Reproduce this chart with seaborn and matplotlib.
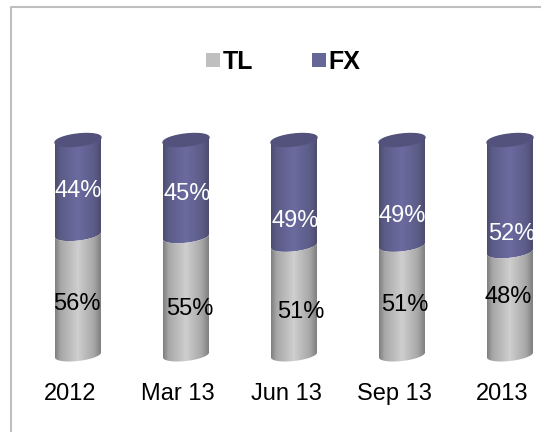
import matplotlib

matplotlib.use("Agg")
import matplotlib.pyplot as plt
import matplotlib.transforms as mtrans
import numpy as np
import pandas as pd
import seaborn as sns
from matplotlib.lines import Line2D
from matplotlib.patches import PathPatch
from matplotlib.path import Path

periods = ["2012", "Mar 13", "Jun 13", "Sep 13", "2013"]
tl = [56, 55, 51, 51, 48]
fx = [44, 45, 49, 49, 52]

# hand placed labels in the original, pixel offset from the middle of each segment
tl_shift = [(-1, -9), (4, -13), (7, -12), (3, -5), (-2, 6)]
fx_shift = [(0, -4), (1, -6), (1, -28), (0, -23), (2, -38)]

W, H = 541, 432
X0, Y0, Y100 = 24, 355, 140  # px position of category -0.5, value 0, value 100
STEP = 108
CAP = 6 / 2.15  # half height of the elliptical ends, in data units
TILT = 2.5 / 2.15

sns.set_theme(style="white")
plt.rcParams["font.family"] = ["Liberation Sans", "DejaVu Sans"]

fig = plt.figure(figsize=(W / 100, H / 100), dpi=100)
ax = fig.add_axes([X0 / W, (H - Y0) / H, (W - X0) / W, (Y0 - Y100) / H])

df = pd.DataFrame({"period": periods, "TL": tl, "FX": fx})
sns.barplot(data=df, x="period", y="TL", color="#c4c4c4", width=46 / STEP, ax=ax, saturation=1)
sns.barplot(data=df, x="period", y="FX", bottom=df["TL"], color="#666699", width=46 / STEP, ax=ax, saturation=1)
ax.set_xlim(-0.5, -0.5 + (W - X0) / STEP)
ax.set_ylim(0, 100)
ax.set_xlabel("")
ax.set_ylabel("")
ax.set_yticks([])
ax.tick_params(axis="x", length=0, pad=20, labelsize=17, labelcolor="black")
sns.despine(ax=ax, left=True, bottom=True)
for lab in ax.get_xticklabels():
    lab.set_transform(lab.get_transform() + mtrans.Affine2D().translate(-8, 0))


def rim(x, w, y, start, stop):
    t = np.linspace(start, stop, 60)
    return x + w / 2 + w / 2 * np.cos(t), y + CAP * np.sin(t) + TILT * np.cos(t)


def shade(edge_l, mid, edge_r):
    xs = np.array([0, 0.12, 0.5, 0.85, 1])
    cols = np.array([edge_l, (np.array(edge_l) + mid) / 2, mid, (np.array(edge_r) + mid) / 2, edge_r])
    u = np.linspace(0, 1, 100)
    return np.stack([np.interp(u, xs, cols[:, i]) for i in range(3)], axis=-1)[None, :, :]


gray = shade(np.array([.50, .50, .50]), np.array([.81, .81, .81]), np.array([.50, .50, .50]))
blue = shade(np.array([.30, .30, .44]), np.array([.42, .42, .63]), np.array([.30, .30, .44]))

for i, bar in enumerate(ax.patches):
    bar.set_visible(False)
    x, w, lo, hi = bar.get_x(), bar.get_width(), bar.get_y(), bar.get_y() + bar.get_height()
    upper = i >= len(periods)
    # lower rim front half, then back along the upper rim
    xa, ya = rim(x, w, lo, np.pi, 2 * np.pi)
    xb, yb = rim(x, w, hi, 0, np.pi if upper else -np.pi)
    verts = np.r_[np.c_[xa, ya], np.c_[xb, yb], [[xa[0], ya[0]]]]
    clip = PathPatch(Path(verts), transform=ax.transData, fc="none", ec="none", clip_on=False)
    ax.add_patch(clip)
    im = ax.imshow(blue if upper else gray, extent=(x, x + w, lo - 6, hi + 6),
                   aspect="auto", zorder=2 if upper else 3, interpolation="bilinear")
    im.set_clip_path(clip)
    im.set_clip_box(fig.bbox)
    if upper:
        xc, yc = rim(x, w, hi, 0, 2 * np.pi)
        ax.fill(xc, yc, color="#52527c", zorder=4, clip_on=False)

ax.set_xlim(-0.5, -0.5 + (W - X0) / STEP)
ax.set_ylim(0, 100)

for i in range(len(periods)):
    ax.annotate(f"{tl[i]}%", (i, tl[i] / 2), xytext=tl_shift[i], textcoords="offset pixels",
                ha="center", va="center", fontsize=17, color="black", zorder=6)
    ax.annotate(f"{fx[i]}%", (i, tl[i] + fx[i] / 2), xytext=fx_shift[i], textcoords="offset pixels",
                ha="center", va="center", fontsize=17, color="white", zorder=6)

handles = [Line2D([], [], ls="", marker="s", ms=9.4, mew=0, color=c) for c in ("#bfbfbf", "#666699")]
fig.legend(handles, ["TL", "FX"], ncol=2, loc="center", bbox_to_anchor=(283 / W, 1 - 62 / H), frameon=False,
           prop={"weight": "bold", "size": 18}, labelcolor="black", handlelength=0.6,
           handletextpad=0.1, columnspacing=2.3)

# frame of the original only shows on the left and top, the rest is cropped away
fig.add_artist(Line2D([10.5 / W, 10.5 / W, 1], [0, 1 - 6.5 / H, 1 - 6.5 / H], transform=fig.transFigure,
                      color="#bfbfbf", lw=1.5))
fig.savefig("out.png", dpi=100)
